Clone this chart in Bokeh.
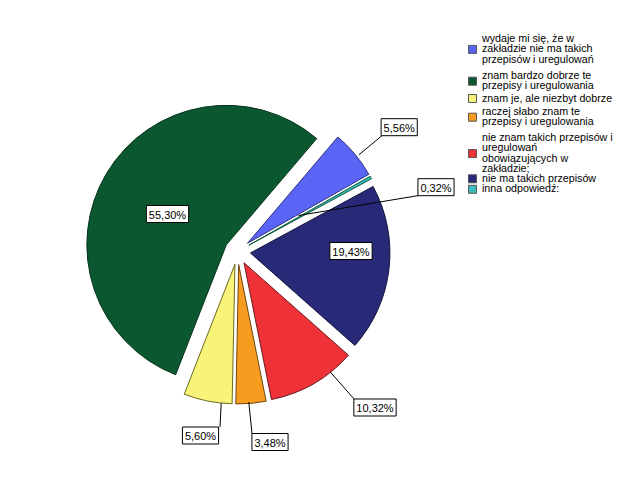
import math
from bokeh.plotting import figure
from bokeh.models import Range1d
from bokeh.core.properties import value
from bokeh.embed import file_html
from bokeh.resources import INLINE

# ---------------- data ----------------
categories = [
    "wydaje mi się, że w\nzakładzie nie ma takich\nprzepisów i uregulowań",
    "znam bardzo dobrze te\nprzepisy i uregulowania",
    "znam je, ale niezbyt dobrze",
    "raczej słabo znam te\nprzepisy i uregulowania",
    "nie znam takich przepisów i\nuregulowań\nobowiązujących w\nzakładzie;",
    "nie ma takich przepisów",
    "inna odpowiedź:",
]
percents = [5.56, 55.30, 5.60, 3.48, 10.32, 19.43, 0.32]
colors = ["#5a64f5", "#0b5830", "#f8f47a", "#f79c1e", "#ee3238", "#282a78", "#3dbdbd"]
outlines = ["#2b3080", "#06321b", "#6b6a20", "#6e4510", "#6e1a1c", "#14153e", "#0d5a3a"]

# ---------------- layout (reference pixel coords) ----------------
W, H = 626, 501
def Y(yr):
    return H - yr

CX, CY = 237.0, 251.0      # pie centre
R = 139.5                  # radius
EXPLODE = 13.0             # explosion distance
START_DEG = 29.6           # start angle of first slice (counter-clockwise)

# label box centres and leader lines (None -> inside label)
label_pos = [(398.7, 126.7), (167.0, 213.5), (200.0, 435.0), (269.5, 441.5),
             (374.5, 407.0), (350.5, 250.5), (435.5, 186.7)]
leaders = [((358.3, 154.3), (381.7, 135.0)), None,
           ((220.7, 402.7), (219.5, 426.7)), ((248.3, 401.7), (251.5, 433.0)),
           ((330.0, 371.7), (354.0, 399.0)), None,
           ((298.0, 215.0), (418.3, 195.0))]

legend_first_line = [38.5, 75.5, 98.0, 111.5, 137.5, 178.3, 188.8]
LINE_H = 10.4
LEG_TEXT_X = 481.5
SW_X, SW = 472.0, 8.0

p = figure(width=W, height=H, x_range=Range1d(0, W), y_range=Range1d(0, H),
           output_backend="svg", toolbar_location=None, x_axis_type=None, y_axis_type=None,
           min_border=0, outline_line_color=None, background_fill_color="white",
           border_fill_color="white")
p.grid.visible = False

total = sum(percents)
ang = START_DEG
xs, ys, sa, ea = [], [], [], []
for v in percents:
    span = 360.0 * v / total
    mid = math.radians(ang + span / 2)
    xs.append(CX + EXPLODE * math.cos(mid))
    ys.append(Y(CY) + EXPLODE * math.sin(mid))
    sa.append(math.radians(ang))
    ea.append(math.radians(ang + span))
    ang += span

p.wedge(x=xs, y=ys, radius=R, start_angle=sa, end_angle=ea, direction="anticlock",
        fill_color=colors, line_color=outlines, line_width=1)

# leader lines
lx0, ly0, lx1, ly1 = [], [], [], []
for ld in leaders:
    if ld is None:
        continue
    (a, b), (c, d) = ld
    lx0.append(a); ly0.append(Y(b)); lx1.append(c); ly1.append(Y(d))
p.segment(x0=lx0, y0=ly0, x1=lx1, y1=ly1, line_color="black", line_width=1)

# percentage labels
def fmt(v):
    return ("%.2f" % v).replace(".", ",") + "%"

metric = {",": 0.278, "%": 0.889}
labels = [fmt(v) for v in percents]
widths = [11 * sum(metric.get(ch, 0.556) for ch in t) + 5 for t in labels]
bx = [q[0] for q in label_pos]
by = [Y(q[1]) for q in label_pos]
p.rect(x=bx, y=by, width=widths, height=17, fill_color="white", line_color="black", line_width=1)
p.text(x=bx, y=[v - 0.5 for v in by], text=labels, text_font=value("Liberation Sans"),
       text_font_size="11px", text_align="center", text_baseline="middle", text_color="black")

# legend
tx, ty, tt = [], [], []
swy = []
for i, cat in enumerate(categories):
    lines = cat.split("\n")
    for j, ln in enumerate(lines):
        tx.append(LEG_TEXT_X)
        ty.append(Y(legend_first_line[i] + j * LINE_H) + 1)
        tt.append(ln)
    swy.append(Y(legend_first_line[i] + (len(lines) - 1) * LINE_H / 2))
p.rect(x=[SW_X] * len(categories), y=swy, width=SW, height=SW, fill_color=colors,
       line_color="#555555", line_width=1)
p.text(x=tx, y=ty, text=tt, text_font=value("Liberation Sans"), text_font_size="10.7px",
       text_align="left", text_baseline="middle", text_color="black")

open("out.html", "w").write(file_html(p, INLINE))
